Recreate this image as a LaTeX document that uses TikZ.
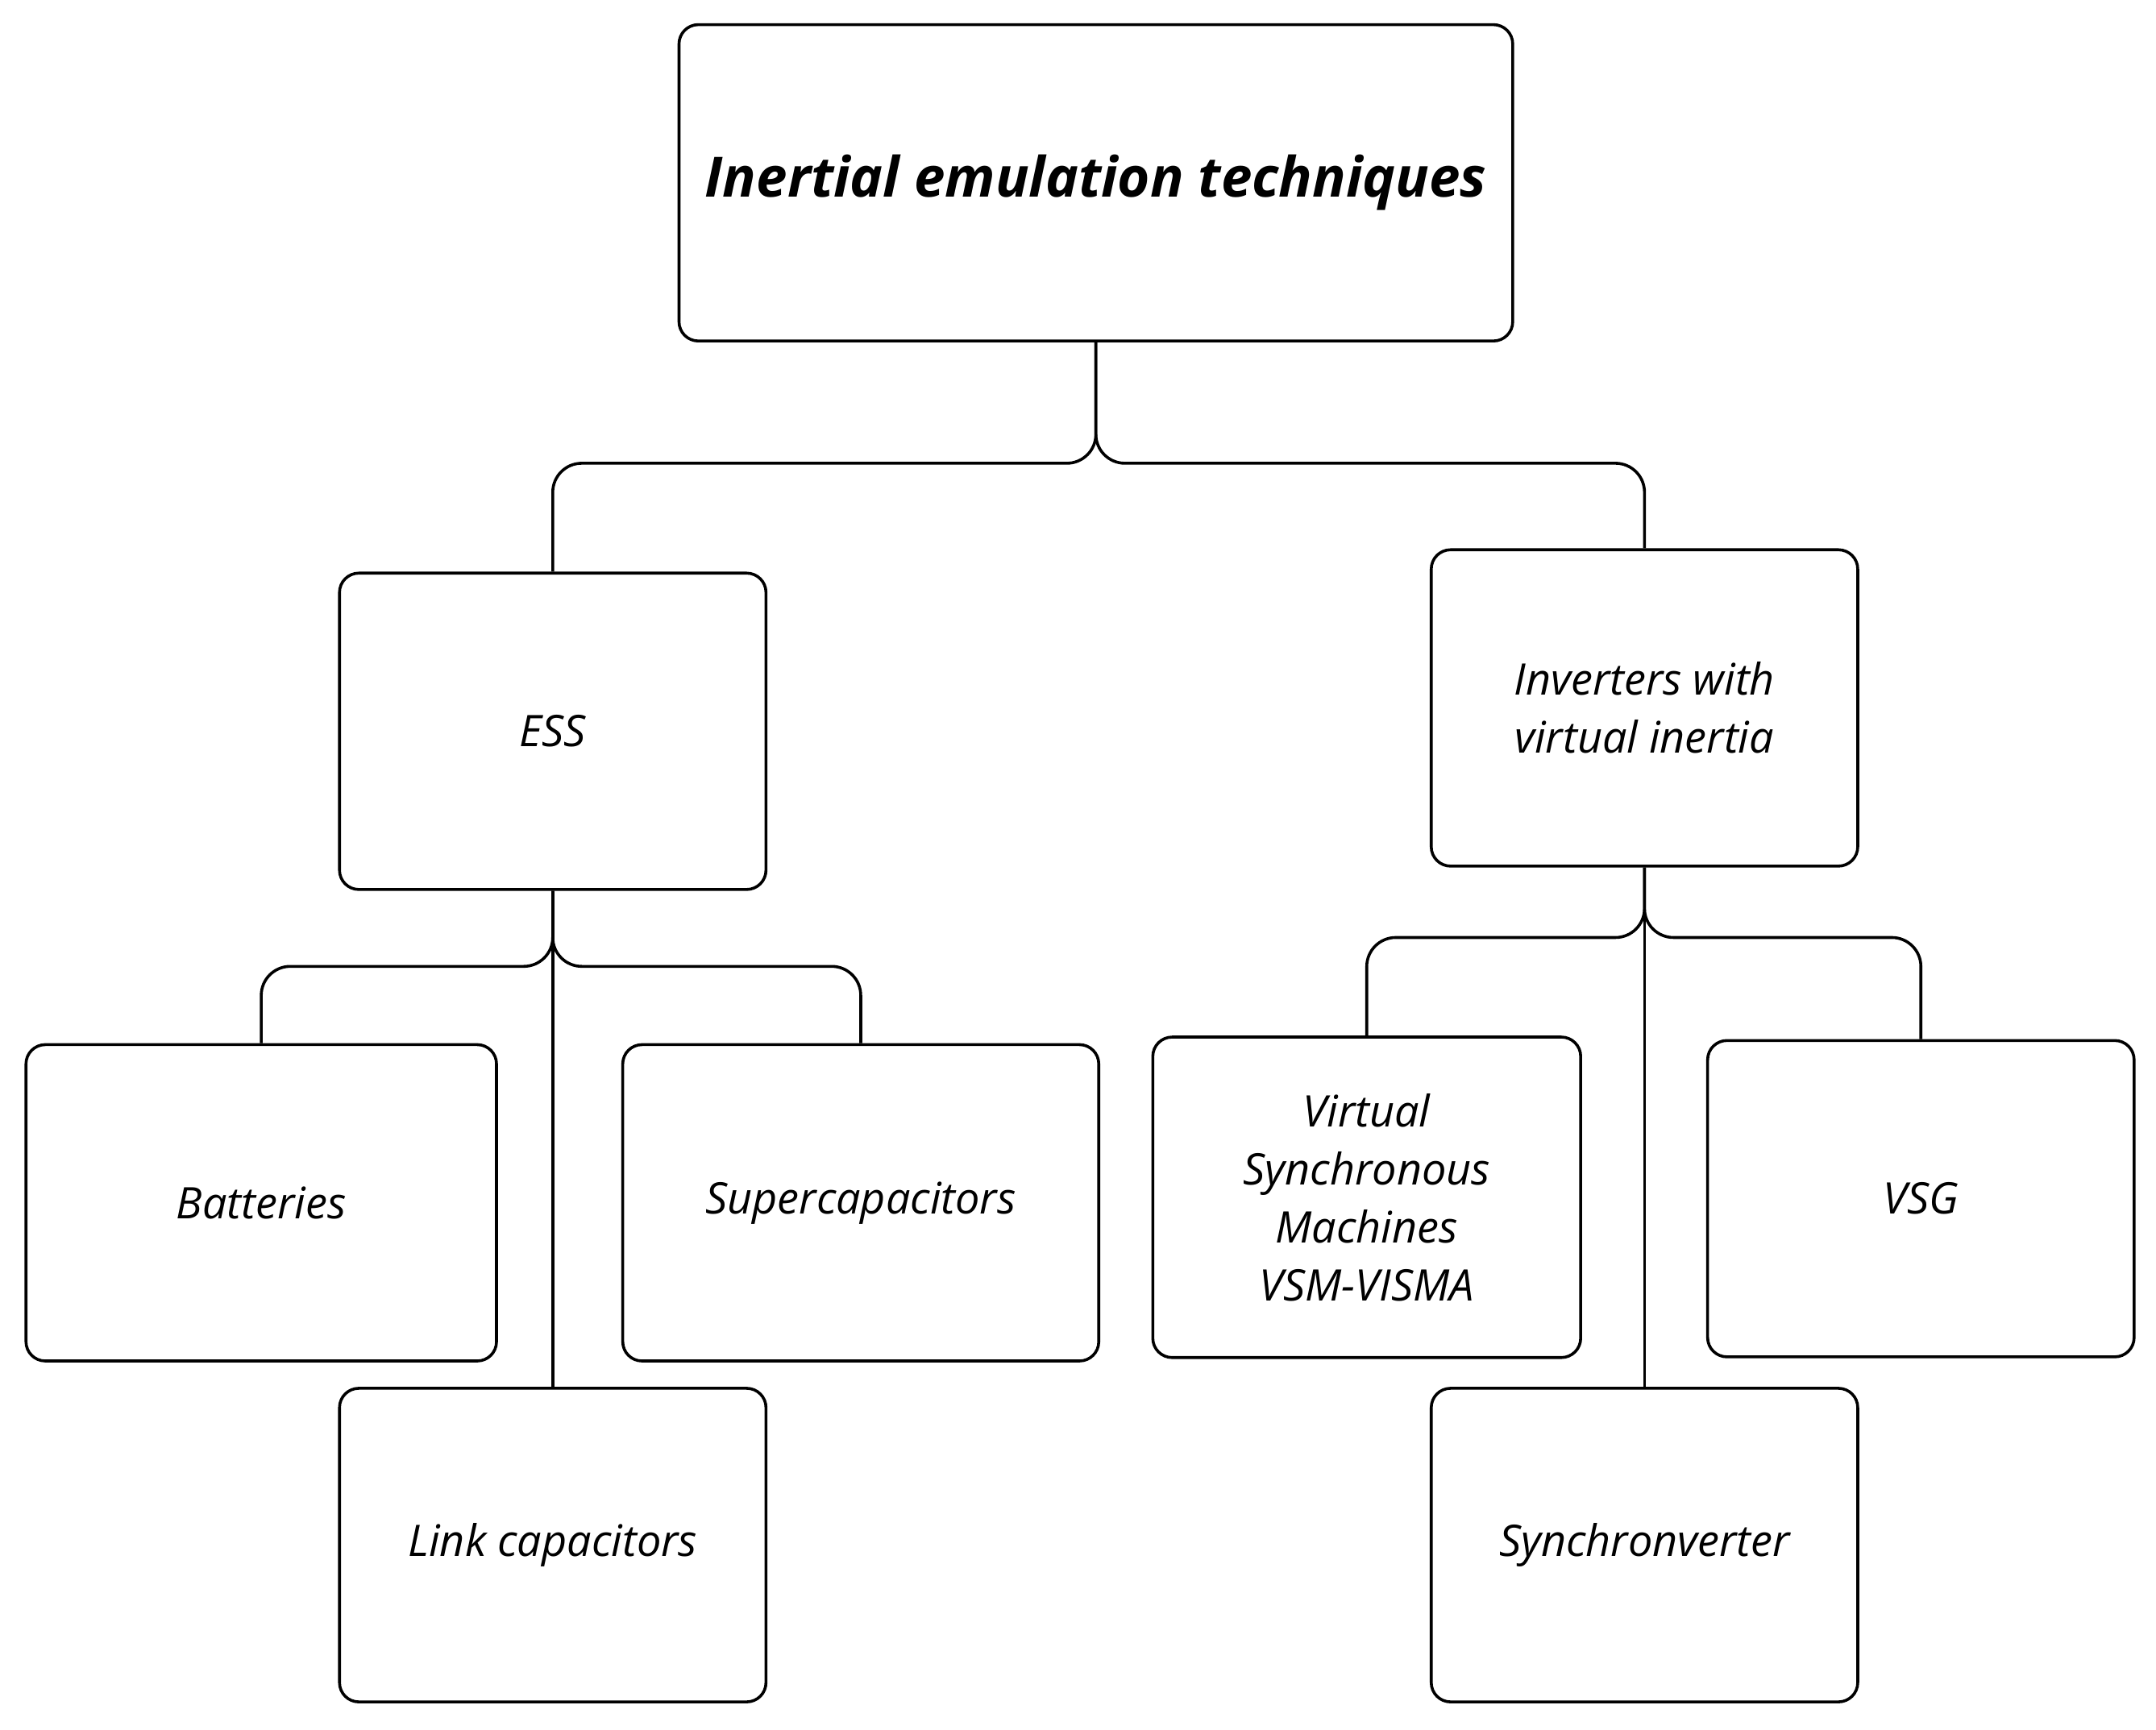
\documentclass[tikz,border=0pt]{standalone}
\usepackage{fontspec}
\setmainfont{Open Sans}
\begin{document}
\begin{tikzpicture}[x=0.01cm,y=-0.01cm,
  box/.style={draw,line width=0.6pt,rounded corners=4pt,font=\itshape\fontsize{9}{12}\selectfont,align=center,inner sep=0pt},
  ln/.style={line width=0.6pt,rounded corners=6pt}]
\useasboundingbox (0,0) rectangle (1568,1258);
\node[box,minimum width=606\pgflinewidth] (top) at (797,133) [minimum width=6.06cm,minimum height=2.30cm,font=\bfseries\itshape\fontsize{11.5}{14}\selectfont] {Inertial emulation techniques};
\node[box,minimum width=3.10cm,minimum height=2.30cm] (ess) at (402,532) {ESS};
\node[box,minimum width=3.10cm,minimum height=2.30cm] (inv) at (1196,515) {Inverters with\\virtual inertia};
\node[box,minimum width=3.42cm,minimum height=2.30cm] (bat) at (190,875) {Batteries};
\node[box,minimum width=3.46cm,minimum height=2.30cm] (sup) at (626,875) {Supercapacitors};
\node[box,minimum width=3.10cm,minimum height=2.28cm] (link) at (402,1124) {Link capacitors};
\node[box,minimum width=3.11cm,minimum height=2.33cm] (vsm) at (994,871) {Virtual\\Synchronous\\Machines\\VSM-VISMA};
\node[box,minimum width=3.10cm,minimum height=2.30cm] (vsg) at (1397,872) {VSG};
\node[box,minimum width=3.10cm,minimum height=2.28cm] (syn) at (1196,1124) {Synchronverter};
\coordinate (j1) at (797,337);
\coordinate (j2) at (402,703);
\coordinate (j3) at (1196,682);
\draw[ln] (ess.north) |- (j1) -- (top.south);
\draw[ln] (inv.north) |- (j1) -- (top.south);
\draw[ln] (bat.north) |- (j2) -- (ess.south);
\draw[ln] (sup.north) |- (j2) -- (ess.south);
\draw[line width=0.6pt] (ess.south) -- (link.north);
\draw[ln] (vsm.north) |- (j3) -- (inv.south);
\draw[ln] (vsg.north) |- (j3) -- (inv.south);
\draw[line width=0.6pt] (inv.south) -- (syn.north);
\end{tikzpicture}
\end{document}
